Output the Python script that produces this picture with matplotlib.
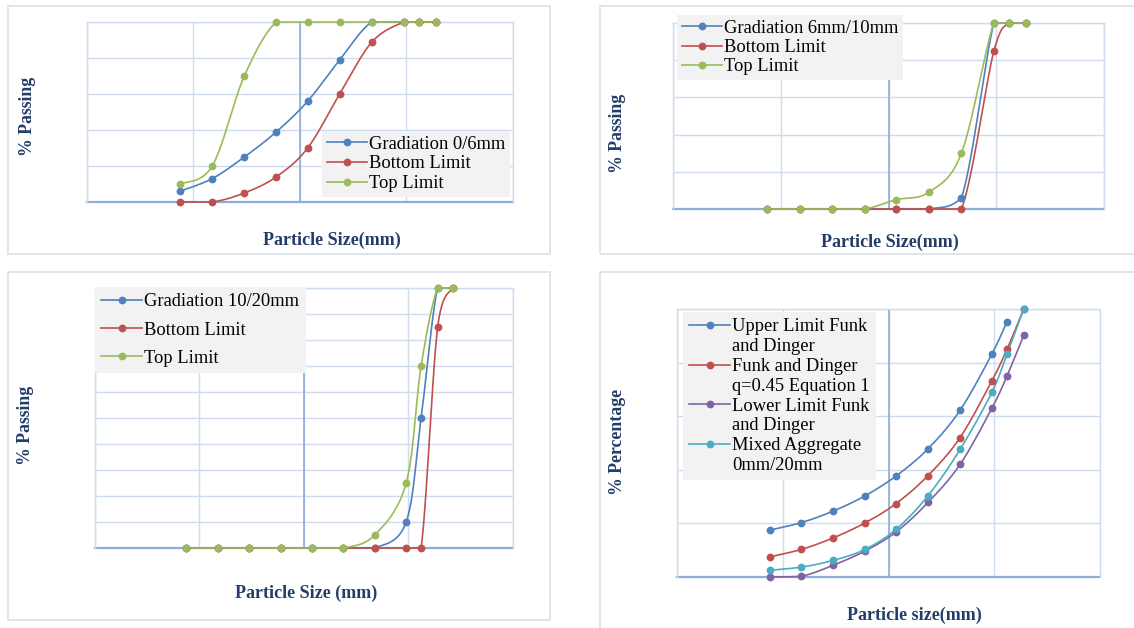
import numpy as np
import matplotlib
matplotlib.use("Agg")
import matplotlib.pyplot as plt
from matplotlib.lines import Line2D
from matplotlib.patches import Rectangle
from matplotlib.ticker import NullLocator

plt.rcParams['font.family'] = ['Liberation Serif', 'DejaVu Serif']

# ---------------- data ----------------
sieves = [0.075, 0.15, 0.3, 0.6, 1.18, 2.36, 4.75, 9.5, 13.2, 19]
sieves_20 = [0.075, 0.15, 0.3, 0.6, 1.18, 2.36, 4.75, 9.5, 13.2, 19, 26.5]

# panel 1: 0/6 mm
grad_0_6 = [6, 13, 25, 39, 56, 79, 100, 100, 100, 100]
bottom_0_6 = [0, 0, 5, 14, 30, 60, 89, 100, 100, 100]
top_0_6 = [10, 20, 70, 100, 100, 100, 100, 100, 100, 100]

# panel 2: 6/10 mm
grad_6_10 = [0, 0, 0, 0, 0, 0, 6, 100, 100, 100]
bottom_6_10 = [0, 0, 0, 0, 0, 0, 0, 85, 100, 100]
top_6_10 = [0, 0, 0, 0, 5, 9, 30, 100, 100, 100]

# panel 3: 10/20 mm
grad_10_20 = [0, 0, 0, 0, 0, 0, 0, 10, 50, 100, 100]
bottom_10_20 = [0, 0, 0, 0, 0, 0, 0, 0, 0, 85, 100]
top_10_20 = [0, 0, 0, 0, 0, 0, 5, 25, 70, 100, 100]

# panel 4: Funk and Dinger
upper_fd = [17.5, 20.3, 24.6, 30.3, 37.7, 47.8, 62.2, 83.2, 95.3]
funk_dinger = [7.5, 10.3, 14.6, 20.2, 27.4, 37.8, 52.0, 73.2, 85.0, 100]
lower_fd = [0, 0.3, 4.4, 9.7, 16.8, 27.8, 42.0, 63.0, 75.0, 90.2]
mixed_agg = [2.5, 3.7, 6.2, 10.3, 17.8, 30.3, 47.6, 68.9, 83.2, 100]

labels_1 = ["Gradiation 0/6mm", "Bottom Limit", "Top Limit"]
labels_2 = ["Gradiation 6mm/10mm", "Bottom Limit", "Top Limit"]
labels_3 = ["Gradiation 10/20mm", "Bottom Limit", "Top Limit"]
labels_4 = [("Upper Limit Funk", "and Dinger"),
            ("Funk and Dinger", "q=0.45 Equation 1"),
            ("Lower Limit Funk", "and Dinger"),
            ("Mixed Aggregate", "0mm/20mm")]

# ---------------- style ----------------
BLUE, RED, GREEN, PURPLE, AQUA = '#4F81BD', '#C0504D', '#9BBB59', '#8064A2', '#4BACC6'
GRID = '#CFDCEE'
AXIS = '#8DAEDB'
TXT = '#233D69'
BOX = '#DCE3EE'
LEGBG = '#F2F2F2'

W, H = 1134, 628
fig = plt.figure(figsize=(W / 100, H / 100), dpi=100)


def fx(x):
    return x / W


def fy(y):
    return 1 - y / H


def add_ax(x0, y0, x1, y1):
    return fig.add_axes([fx(x0), fy(y1), (x1 - x0) / W, (y1 - y0) / H])


def outer_box(x0, y0, x1, y1):
    fig.patches.append(Rectangle((fx(x0), fy(y1)), (x1 - x0) / W, (y1 - y0) / H,
                                 transform=fig.transFigure, fill=False,
                                 edgecolor=BOX, lw=1.3))


def style(ax, ystep):
    ax.set_xscale('log')
    ax.set_xlim(0.01, 100)
    ax.set_ylim(0, 100)
    ax.set_xticks([0.01, 0.1, 1, 10, 100])
    ax.xaxis.set_minor_locator(NullLocator())
    ax.set_yticks(np.arange(0, 101, ystep))
    ax.tick_params(length=0, labelbottom=False, labelleft=False)
    ax.grid(True, color=GRID, lw=1.0)
    ax.set_axisbelow(True)
    for s in ax.spines.values():
        s.set_color(GRID)
        s.set_linewidth(1.0)
    ax.spines['bottom'].set_color(AXIS)
    ax.spines['bottom'].set_linewidth(1.6)
    ax.spines['bottom'].set_zorder(1.6)
    ax.axvline(1, color=AXIS, lw=1.2, zorder=1.5)
    ax.patch.set_alpha(0)


def smooth(xs, ys, n=40):
    u = np.log10(np.asarray(xs, float))
    y = np.asarray(ys, float)
    lo, hi = y.min(), y.max()
    P = np.column_stack([u, y])
    m = len(P)
    out = [P[0]]
    t = np.linspace(0, 1, n)[1:, None]
    for i in range(m - 1):
        p0 = P[max(i - 1, 0)]
        p1 = P[i]
        p2 = P[i + 1]
        p3 = P[min(i + 2, m - 1)]
        c1 = p1 + (p2 - p0) / 6.0
        c2 = p2 - (p3 - p1) / 6.0
        c1[1] = np.clip(c1[1], lo, hi)
        c2[1] = np.clip(c2[1], lo, hi)
        seg = ((1 - t) ** 3) * p1 + 3 * ((1 - t) ** 2) * t * c1 + 3 * (1 - t) * t ** 2 * c2 + t ** 3 * p2
        out.extend(seg)
    out = np.array(out)
    return 10 ** out[:, 0], out[:, 1]


def series(ax, xs, ys, color):
    xs = list(xs)[:len(ys)]
    sx, sy = smooth(xs, ys)
    ax.plot(sx, sy, color=color, lw=1.2, clip_on=False, zorder=3)
    ax.plot(xs, ys, 'o', ms=4.6, color=color, clip_on=False, zorder=4)
    return Line2D([], [], color=color, lw=1.2, marker='o', ms=4.6)


def legend(ax, handles, labels, x, y, spacing, pad=0.35):
    leg = ax.legend(handles, labels, loc='upper left',
                    bbox_to_anchor=(fx(x), fy(y)), bbox_transform=fig.transFigure,
                    borderaxespad=0, frameon=True, fancybox=False, framealpha=1,
                    facecolor=LEGBG, edgecolor='none', fontsize=13.3,
                    handlelength=2.2, handletextpad=0.12, labelspacing=spacing,
                    borderpad=pad, numpoints=1)
    leg.set_zorder(5)
    return leg


def xlabel(text, x, y):
    fig.text(fx(x), fy(y), text, ha='center', va='center', fontsize=13,
             fontweight='bold', color=TXT)


def ylabel(text, x, y):
    fig.text(fx(x), fy(y), text, ha='center', va='center', fontsize=12.8,
             fontweight='bold', color=TXT, rotation=90)


# ---------------- panel 1 ----------------
outer_box(8, 6, 550, 254)
ax1 = add_ax(87, 22, 513, 202)
style(ax1, 20)
h = [series(ax1, sieves, grad_0_6, BLUE),
     series(ax1, sieves, bottom_0_6, RED),
     series(ax1, sieves, top_0_6, GREEN)]
legend(ax1, h, labels_1, 322, 131, 0.15, pad=0.25)
xlabel("Particle Size(mm)", 332, 240)
ylabel("% Passing", 27, 116)

# ---------------- panel 2 ----------------
outer_box(600, 6, 1145, 254)
ax2 = add_ax(673, 23, 1104, 209)
style(ax2, 20)
h = [series(ax2, sieves, grad_6_10, BLUE),
     series(ax2, sieves, bottom_6_10, RED),
     series(ax2, sieves, top_6_10, GREEN)]
legend(ax2, h, labels_2, 677, 15, 0.13, pad=0.25)
xlabel("Particle Size(mm)", 890, 242)
ylabel("% Passing", 617, 133)

# ---------------- panel 3 ----------------
outer_box(8, 272, 550, 620)
ax3 = add_ax(95, 288, 513, 548)
style(ax3, 10)
h = [series(ax3, sieves_20, grad_10_20, BLUE),
     series(ax3, sieves_20, bottom_10_20, RED),
     series(ax3, sieves_20, top_10_20, GREEN)]
legend(ax3, h, labels_3, 95, 287, 0.6)
xlabel("Particle Size (mm)", 306, 593)
ylabel("% Passing", 25, 425)

# ---------------- panel 4 ----------------
outer_box(600, 272, 1145, 640)
ax4 = add_ax(677, 309, 1100, 577)
style(ax4, 20)
h4 = [series(ax4, sieves, upper_fd, BLUE),
      series(ax4, sieves, funk_dinger, RED),
      series(ax4, sieves, lower_fd, PURPLE),
      series(ax4, sieves, mixed_agg, AQUA)]
hs, ls = [], []
blank = Line2D([], [], color='none', lw=0)
for hh, (l1, l2) in zip(h4, labels_4):
    hs += [hh, blank]
    ls += [l1, l2]
legend(ax4, hs, ls, 683, 312, 0.15)
xlabel("Particle size(mm)", 914, 615)
ylabel("% Percentage", 617, 442)

fig.savefig("out.png", dpi=100, facecolor='white')
